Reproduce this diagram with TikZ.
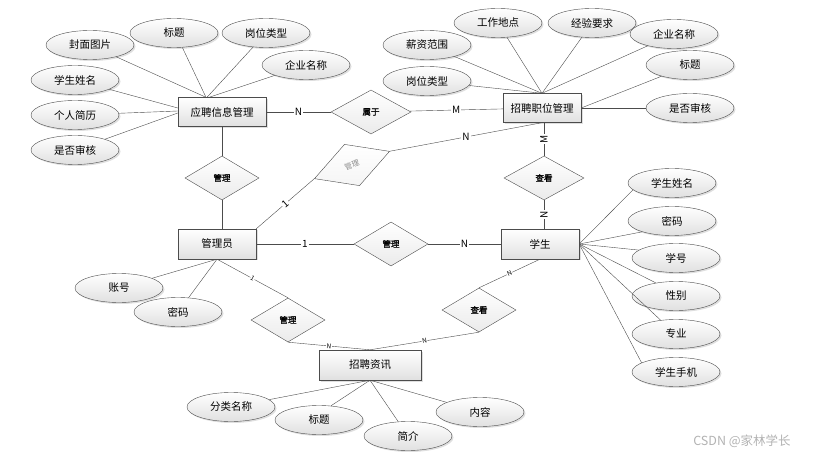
\documentclass[tikz,border=0pt]{standalone}
\usepackage{fontspec}
\setmainfont{Noto Sans CJK SC}
\newfontfamily\relfont{Noto Sans CJK SC}[FakeBold=1.2]
\usetikzlibrary{shapes.geometric,shadows}

\tikzset{
  shd/.style={drop shadow={shadow xshift=1.5pt,shadow yshift=-1.5pt,opacity=0.25}},
  ent/.style={rectangle, draw=black!70, top color=white, bottom color=black!12, shd,
    minimum width=78pt, minimum height=30pt, inner sep=0pt, font=\fontsize{10.5}{12}\selectfont},
  attr/.style={ellipse, draw=black!70, top color=white, bottom color=black!12, shd,
    minimum width=88pt, minimum height=29pt, inner sep=0pt, font=\fontsize{10.5}{12}\selectfont},
  rel/.style={diamond, draw=black!70, top color=white, bottom color=black!8,
    minimum width=74pt, minimum height=44pt, inner sep=0pt, font=\relfont\fontsize{8.5}{9}\selectfont},
  card/.style={fill=white, inner sep=1pt, font=\fontsize{10}{11}\selectfont},
  tinycard/.style={fill=white, inner sep=0.5pt, font=\fontsize{6.5}{7}\selectfont},
}

\begin{document}
\begin{tikzpicture}[x=1pt,y=-1pt]
  \useasboundingbox (0,0) rectangle (814,457);

  % entities
  \node[ent, minimum width=88pt, minimum height=29pt] (yp) at (222,112) {应聘信息管理};
  \node[ent, minimum height=29pt] (zp) at (542,108) {招聘职位管理};
  \node[ent] (gly) at (217,244) {管理员};
  \node[ent] (xs) at (540,244) {学生};
  \node[ent, minimum width=102pt] (zx) at (370,365) {招聘资讯};

  % relations
  \node[rel, minimum width=80pt] (sy) at (371,112) {属于};
  \node[rel] (gl1) at (222,178) {管理};
  \node[rel, minimum width=80pt, rotate=20, text=black!45, bottom color=black!4,
    font=\fontsize{7.5}{8}\selectfont] (gl2) at (352,165) {管理};
  \node[rel] (gl3) at (391,244) {管理};
  \node[rel, minimum width=80pt] (ck1) at (544,178) {查看};
  \node[rel] (gl4) at (288,320) {管理};
  \node[rel] (ck2) at (479,310) {查看};

  % attributes
  \begin{scope}[every node/.style={attr}]
    \node (yp1) at (90,45) {封面图片};
    \node (yp2) at (174,33) {标题};
    \node (yp3) at (266,33) {岗位类型};
    \node (yp4) at (306,65) {企业名称};
    \node (yp5) at (75,80) {学生姓名};
    \node (yp6) at (75,115) {个人简历};
    \node (yp7) at (75,150) {是否审核};

    \node (zp1) at (427,45) {薪资范围};
    \node (zp2) at (498,23) {工作地点};
    \node (zp3) at (592,23) {经验要求};
    \node (zp4) at (674,34) {企业名称};
    \node (zp5) at (427,81) {岗位类型};
    \node (zp6) at (690,65) {标题};
    \node (zp7) at (690,108) {是否审核};

    \node (xs1) at (672,183) {学生姓名};
    \node (xs2) at (672,221) {密码};
    \node (xs3) at (676,258) {学号};
    \node (xs4) at (676,296) {性别};
    \node (xs5) at (676,334) {专业};
    \node (xs6) at (676,372) {学生手机};

    \node (gly1) at (119,288) {账号};
    \node (gly2) at (178,312) {密码};

    \node (zx1) at (231,407) {分类名称};
    \node (zx2) at (319,420) {标题};
    \node (zx3) at (408,436) {简介};
    \node (zx4) at (480,412) {内容};
  \end{scope}

  \node[text=black!30, font=\fontsize{12.5}{13}\selectfont] (wm) at (742,441) {CSDN @家林学长};

  \begin{scope}[draw=black!70]
    \draw (yp) to node[card]{N} (sy);
    \draw (sy) to node[card]{M} (zp);
    \draw (yp) to (gl1);
    \draw (gl1) to (gl1.south |- gly.north);
    \draw (gly.north east) to node[card, sloped]{1} (gl2.west);
    \draw (gl2.east) to node[card]{N} (zp.south);
    \draw (ck1.north |- zp.south) to node[card, rotate=90]{M} (ck1);
    \draw (ck1) to node[card, rotate=90]{N} (ck1.south |- xs.north);
    \draw (gly) to node[card]{1} (gl3);
    \draw (gl3) to node[card]{N} (xs);
    \draw (gly.south) to node[tinycard, sloped]{1} (gl4.north);
    \draw (gl4.south) to node[tinycard, sloped]{N} (zx.north);
    \draw (xs.south) to node[tinycard, sloped]{N} (ck2.north);
    \draw (ck2.south) to node[tinycard, sloped]{N} (zx.north);

    \draw (yp1) to ([xshift=-16pt]yp.north);
    \draw (yp2.-60) to ([xshift=-16pt]yp.north);
    \draw (yp3) to ([xshift=-15pt]yp.north);
    \draw (yp4) to ([xshift=-13pt]yp.north);
    \draw (yp5) to ([yshift=4pt]yp.west);
    \draw (yp6) to ([yshift=1pt]yp.west);
    \draw (yp7) to ([yshift=-1pt]yp.west);

    \draw (zp1) to (zp.north);
    \draw (zp2) to (zp.north);
    \draw (zp3) to (zp.north);
    \draw (zp4) to (zp.north);
    \draw (zp5) to (zp.north);
    \draw (zp6) to (zp.east);
    \draw (zp7) to (zp.east);

    \draw (xs1.190) to (xs.east);
    \draw (xs2.200) to (xs.east);
    \draw (xs3.168) to (xs.east);
    \draw (xs4.147) to (xs.east);
    \draw (xs5.138) to (xs.east);
    \draw (xs6.165) to (xs.east);

    \draw (gly1) to (gly.south);
    \draw (gly2) to (gly.south);

    \draw (zx1) to (zx.south);
    \draw (zx2.50) to (zx.south);
    \draw (zx3) to (zx.south);
    \draw (zx4) to (zx.south);
  \end{scope}
\end{tikzpicture}
\end{document}
